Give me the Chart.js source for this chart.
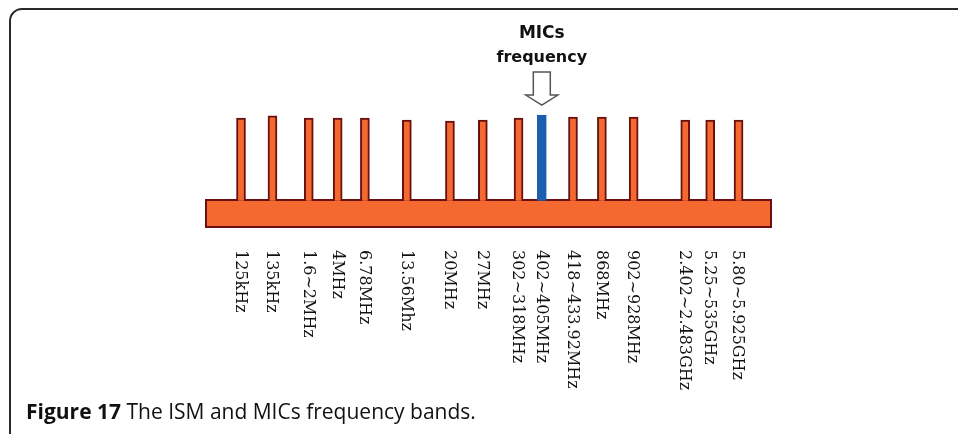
<!DOCTYPE html>
<html>
<head>
<meta charset="utf-8">
<script src="https://cdn.jsdelivr.net/npm/chart.js@4.4.0/dist/chart.umd.min.js"></script>
<style>
html, body { margin: 0; padding: 0; background: #fff; }
</style>
</head>
<body>
<canvas id="myChart" width="958" height="434"></canvas>
<script>
// bands laid out along a schematic spectrum strip (0..100 across the strip)
const bandLabels = ['125kHz', '135kHz', '1.6~2MHz', '4MHz', '6.78MHz', '13.56Mhz', '20MHz', '27MHz',
    '302~318MHz', '402~405MHz', '418~433.92MHz', '868MHz', '902~928MHz', '2.402~2.483GHz',
    '5.25~535GHz', '5.80~5.925GHz']
const bandSpot = [6.35, 11.9, 18.3, 23.4, 28.2, 35.6, 43.2, 49.0, 55.3, 59.4, 64.9, 70.0, 75.6, 84.7, 89.1, 94.1]
const bandHeight = [9.48, 9.66, 9.48, 9.48, 9.48, 9.31, 9.22, 9.31, 9.48, 9.74, 9.57, 9.57, 9.57, 9.31, 9.31, 9.31]
const stripLevel = 2.5
const micsBand = '402~405MHz'

const orange = '#f4692f'
const darkRed = '#6a1010'
const blue = '#1c5fae'

const ctx = document.getElementById('myChart').getContext('2d')

// the orange strip under the teeth
const stripPlugin = {
    id: 'strip',
    beforeDatasetsDraw(chart) {
        const {ctx, scales: {x, y}} = chart
        const l = x.getPixelForValue(0), r = x.getPixelForValue(100)
        const t = y.getPixelForValue(stripLevel), b = y.getPixelForValue(0)
        ctx.save()
        ctx.fillStyle = orange
        ctx.fillRect(l, t, r - l, b - t)
        ctx.strokeStyle = darkRed
        ctx.lineWidth = 2
        ctx.strokeRect(l + 1, t + 1, r - l - 2, b - t - 2)
        ctx.restore()
    }
}

// rotated band names, the MICs arrow, frame and caption
const decorPlugin = {
    id: 'decor',
    afterDraw(chart) {
        const {ctx, scales: {x, y}} = chart
        ctx.save()
        ctx.font = '16px "DejaVu Serif"'
        ctx.fillStyle = '#111'
        ctx.textAlign = 'left'
        ctx.textBaseline = 'middle'
        bandLabels.forEach((lab, i) => {
            ctx.save()
            ctx.translate(x.getPixelForValue(bandSpot[i]) - 1, y.bottom + 22)
            ctx.rotate(Math.PI / 2)
            ctx.fillText(lab, 0, 0)
            ctx.restore()
        })

        const mi = bandLabels.indexOf(micsBand)
        const mx = x.getPixelForValue(bandSpot[mi])
        const tip = y.getPixelForValue(bandHeight[mi]) - 10
        ctx.fillStyle = '#111'
        ctx.textAlign = 'center'
        ctx.textBaseline = 'alphabetic'
        ctx.font = 'bold 17px "DejaVu Sans"'
        ctx.fillText('MICs', mx, 38)
        ctx.font = 'bold 16px "DejaVu Sans"'
        ctx.fillText('frequency', mx, 62)

        ctx.beginPath()
        ctx.moveTo(mx - 8.5, tip - 33)
        ctx.lineTo(mx + 8.5, tip - 33)
        ctx.lineTo(mx + 8.5, tip - 10)
        ctx.lineTo(mx + 16, tip - 10)
        ctx.lineTo(mx, tip)
        ctx.lineTo(mx - 16, tip - 10)
        ctx.lineTo(mx - 8.5, tip - 10)
        ctx.closePath()
        ctx.fillStyle = '#fff'
        ctx.fill()
        ctx.strokeStyle = '#555'
        ctx.lineWidth = 1.5
        ctx.stroke()

        ctx.beginPath()
        ctx.moveTo(10, 434)
        ctx.lineTo(10, 21)
        ctx.arcTo(10, 9, 22, 9, 12)
        ctx.lineTo(958, 9)
        ctx.strokeStyle = '#2a2a2a'
        ctx.lineWidth = 2
        ctx.stroke()

        ctx.textAlign = 'left'
        ctx.fillStyle = '#111'
        ctx.font = 'bold 21px "Open Sans"'
        const head = 'Figure 17'
        ctx.fillText(head, 26, 419)
        const w = ctx.measureText(head).width
        ctx.font = '21px "Open Sans"'
        ctx.fillText(' The ISM and MICs frequency bands.', 26 + w, 419)
        ctx.restore()
    }
}

const config = {
    type: 'bar',
    data: {
        datasets: [{
            label: 'bands',
            data: bandSpot.map((s, i) => ({x: s, y: [stripLevel - 0.15, bandHeight[i]]})),
            backgroundColor: bandLabels.map(l => l === micsBand ? blue : orange),
            borderColor: bandLabels.map(l => l === micsBand ? blue : darkRed),
            borderWidth: 2,
            borderSkipped: 'bottom',
            barThickness: 9,
            grouped: false
        }]
    },
    options: {
        responsive: false,
        animation: false,
        devicePixelRatio: 1,
        layout: {padding: {left: 205, right: 186, top: 112, bottom: 206}},
        scales: {
            x: {type: 'linear', min: 0, max: 100, offset: false, display: false},
            y: {min: 0, max: 10, display: false}
        },
        plugins: {
            legend: {display: false},
            tooltip: {enabled: false}
        }
    },
    plugins: [stripPlugin, decorPlugin]
}
const myChart = new Chart(ctx, config)
</script>
</body>
</html>
